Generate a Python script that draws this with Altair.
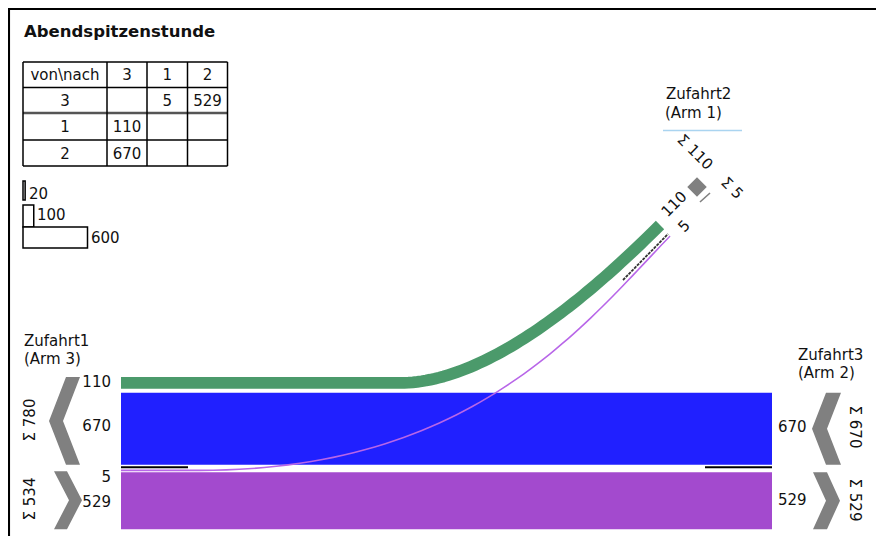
import altair as alt
import pandas as pd

# ---------------- data ----------------
title = "Abendspitzenstunde"
col_heads = ["von\\nach", "3", "1", "2"]
row_heads = ["3", "1", "2"]
matrix = [[None, 5, 529],
          [110, None, None],
          [670, None, None]]
legend_vals = [20, 100, 600]
arm_labels = {"Arm 3": ["Zufahrt1", "(Arm 3)"],
              "Arm 2": ["Zufahrt3", "(Arm 2)"],
              "Arm 1": ["Zufahrt2", "(Arm 1)"]}
flow_1_3 = 110   # Arm 1 -> Arm 3 (green)
flow_2_3 = 670   # Arm 2 -> Arm 3 (blue)
flow_3_1 = 5     # Arm 3 -> Arm 1 (thin purple)
flow_3_2 = 529   # Arm 3 -> Arm 2 (purple)

sum_arm3_out = flow_1_3 + flow_2_3
sum_arm3_in = flow_3_1 + flow_3_2
sum_arm2_in = flow_2_3
sum_arm2_out = flow_3_2
sum_arm1_in = flow_1_3
sum_arm1_out = flow_3_1

# ---------------- layout ----------------
K = 0.1075            # px per vehicle
FONT = "DejaVu Sans"
FS = 15
GREEN = "#4B9A6B"
BLUE = "#2020FF"
PURPLE = "#A34ACE"
THIN = "#B866E8"
GRAY = "#808080"

W, H = 868, 528
XL, XR = 121, 772
green_top = 377
g_h = flow_1_3 * K
g_c = green_top + g_h / 2
blue_top = green_top + g_h + 4
blue_bot = blue_top + flow_2_3 * K
sep_y = blue_bot + 2.5
thin_y = blue_bot + 5.5
purple_top = blue_bot + 7.5
purple_bot = purple_top + flow_3_2 * K

X = lambda f="x": alt.X(f + ":Q", scale=alt.Scale(domain=[8, 8 + W], nice=False, zero=False), axis=None, stack=None)
Y = lambda f="y": alt.Y(f + ":Q", scale=alt.Scale(domain=[8, 8 + H], nice=False, zero=False, reverse=True), axis=None, stack=None)


def bez(p0, p1, p2, p3, n=60):
    pts = []
    for j in range(n + 1):
        t = j / n
        a, b, c, d = (1 - t) ** 3, 3 * (1 - t) ** 2 * t, 3 * (1 - t) * t ** 2, t ** 3
        pts.append((a * p0[0] + b * p1[0] + c * p2[0] + d * p3[0],
                    a * p0[1] + b * p1[1] + c * p2[1] + d * p3[1]))
    return pts


def path_df(pts):
    return pd.DataFrame([{"x": p[0], "y": p[1], "i": k} for k, p in enumerate(pts)])


layers = []

# frame (top and left edges)
frame = pd.DataFrame([{"x": 8, "y": 8.8, "x2": 884, "y2": 8.8},
                      {"x": 8.8, "y": 8, "x2": 8.8, "y2": 544}])
layers.append(alt.Chart(frame).mark_rule(color="black", strokeWidth=2.5, strokeCap="butt").encode(
    x=X(), y=Y(), x2="x2:Q", y2="y2:Q"))

# bands
rects = pd.DataFrame([
    {"x": XL, "x2": XR, "y": blue_top, "y2": blue_bot, "c": BLUE},
    {"x": XL, "x2": XR, "y": purple_top, "y2": purple_bot, "c": PURPLE},
])
layers.append(alt.Chart(rects).mark_rect().encode(
    x=X(), x2="x2:Q", y=Y(), y2="y2:Q", color=alt.Color("c:N", scale=None)))

# green curved band
gpts = [(XL, g_c)] + bez((400, g_c), (485, g_c), (585, 300), (660, 225))
layers.append(alt.Chart(path_df(gpts)).mark_line(
    color=GREEN, strokeWidth=g_h, strokeCap="butt", strokeJoin="round").encode(
    x=X(), y=Y(), order="i:Q"))

# thin purple curve
ppts = [(XL, thin_y)] + bez((200, thin_y), (470, thin_y), (580, 330), (670, 236))
layers.append(alt.Chart(path_df(ppts)).mark_line(
    color=THIN, strokeWidth=max(flow_3_1 * K, 1.6), strokeCap="butt").encode(
    x=X(), y=Y(), order="i:Q"))

# separator lines
seps = pd.DataFrame([
    {"x": XL, "x2": 188, "y": sep_y, "y2": sep_y},
    {"x": 705, "x2": XR, "y": sep_y, "y2": sep_y},
])
layers.append(alt.Chart(seps).mark_rule(color="black", strokeWidth=2, strokeCap="butt").encode(
    x=X(), x2="x2:Q", y=Y(), y2="y2:Q"))
diag = pd.DataFrame([{"x": 623, "y": 280, "x2": 668, "y2": 234}])
layers.append(alt.Chart(diag).mark_rule(color="white", strokeWidth=4, strokeCap="butt").encode(
    x=X(), x2="x2:Q", y=Y(), y2="y2:Q"))
layers.append(alt.Chart(diag).mark_rule(color="#333333", strokeWidth=1.8, strokeCap="butt",
                                        strokeDash=[3, 1]).encode(
    x=X(), x2="x2:Q", y=Y(), y2="y2:Q"))

# chevrons (horizontal areas)
def chev(cid, y0, y1, xo, xi, tip_o, tip_i):
    ym = (y0 + y1) / 2
    return [{"id": cid, "y": y0, "xa": xo, "xb": xi},
            {"id": cid, "y": ym, "xa": tip_o, "xb": tip_i},
            {"id": cid, "y": y1, "xa": xo, "xb": xi}]

chev_rows = (chev("l_out", green_top, blue_bot, 66, 80, 49, 63)
             + chev("l_in", thin_y + 1, purple_bot, 54, 67, 69, 82)
             + chev("r_in", blue_top, blue_bot, 826, 841, 812, 827)
             + chev("r_out", purple_top, purple_bot, 813, 827, 826, 840))
layers.append(alt.Chart(pd.DataFrame(chev_rows)).mark_area(orient="horizontal", color=GRAY).encode(
    y=Y(), x=X("xa"), x2="xb:Q", detail="id:N"))

# arm 1 markers
layers.append(alt.Chart(pd.DataFrame([{"x": 697, "y": 187}])).mark_point(
    shape="square", filled=True, size=190, angle=45, color=GRAY, opacity=1).encode(x=X(), y=Y()))
tiny = pd.DataFrame([{"x": 700, "y": 202, "x2": 710, "y2": 193}])
layers.append(alt.Chart(tiny).mark_rule(color=GRAY, strokeWidth=1.6).encode(
    x=X(), x2="x2:Q", y=Y(), y2="y2:Q"))
blue_line = pd.DataFrame([{"x": 663, "x2": 742, "y": 130.5, "y2": 130.5}])
layers.append(alt.Chart(blue_line).mark_rule(color="#AAD4F0", strokeWidth=1.5).encode(
    x=X(), x2="x2:Q", y=Y(), y2="y2:Q"))

# table lines
col_edges = [23, 107, 147, 187.5, 227.5]
row_edges = [62, 87.5, 113, 140, 166]
tl = []
for k, ye in enumerate(row_edges):
    tl.append({"x": col_edges[0], "x2": col_edges[-1], "y": ye, "y2": ye, "w": 2.6 if k == 2 else 1.5,
               "c": "#555555" if k == 2 else "black"})
for xe in col_edges:
    tl.append({"x": xe, "x2": xe, "y": row_edges[0], "y2": row_edges[-1], "w": 1.5, "c": "black"})
layers.append(alt.Chart(pd.DataFrame(tl)).mark_rule().encode(
    x=X(), x2="x2:Q", y=Y(), y2="y2:Q",
    strokeWidth=alt.StrokeWidth("w:Q", scale=None), color=alt.Color("c:N", scale=None)))

# legend boxes
leg_tops = [181, 205, 227]
leg_bots = [200, 227, 248]
leg = pd.DataFrame([{"x": 23, "x2": 23 + v * K, "y": t, "y2": b}
                    for v, t, b in zip(legend_vals, leg_tops, leg_bots)])
layers.append(alt.Chart(leg).mark_rect(fill="white", stroke="black", strokeWidth=1.5).encode(
    x=X(), x2="x2:Q", y=Y(), y2="y2:Q"))

# ---------------- texts ----------------
center_txt = []
col_c = [(a + b) / 2 for a, b in zip(col_edges[:-1], col_edges[1:])]
row_c = [(a + b) / 2 + 0.5 for a, b in zip(row_edges[:-1], row_edges[1:])]
for j, h in enumerate(col_heads):
    center_txt.append({"x": col_c[j], "y": row_c[0], "t": h, "a": 0})
for i, r in enumerate(row_heads):
    center_txt.append({"x": col_c[0], "y": row_c[i + 1], "t": r, "a": 0})
    for j, v in enumerate(matrix[i]):
        if v is not None:
            center_txt.append({"x": col_c[j + 1], "y": row_c[i + 1], "t": str(v), "a": 0})
center_txt += [
    {"x": 30, "y": 420, "t": f"Σ {sum_arm3_out}", "a": 270},
    {"x": 30, "y": 499, "t": f"Σ {sum_arm3_in}", "a": 270},
    {"x": 855, "y": 427, "t": f"Σ {sum_arm2_in}", "a": 90},
    {"x": 855, "y": 500, "t": f"Σ {sum_arm2_out}", "a": 90},
    {"x": 695, "y": 152, "t": f"Σ {sum_arm1_in}", "a": 45},
    {"x": 732, "y": 188, "t": f"Σ {sum_arm1_out}", "a": 45},
    {"x": 674, "y": 204, "t": str(flow_1_3), "a": 315},
    {"x": 684, "y": 226, "t": str(flow_3_1), "a": 315},
]
layers.append(alt.Chart(pd.DataFrame(center_txt)).mark_text(
    font=FONT, fontSize=FS, align="center", baseline="middle", color="#111111").encode(
    x=X(), y=Y(), text="t:N", angle=alt.Angle("a:Q", scale=None)))

left_txt = [
    {"x": 24, "y": 340.5, "t": arm_labels["Arm 3"][0]},
    {"x": 24, "y": 358.5, "t": arm_labels["Arm 3"][1]},
    {"x": 798, "y": 354.5, "t": arm_labels["Arm 2"][0]},
    {"x": 798, "y": 373, "t": arm_labels["Arm 2"][1]},
    {"x": 666, "y": 93.5, "t": arm_labels["Arm 1"][0]},
    {"x": 665, "y": 112.5, "t": arm_labels["Arm 1"][1]},
    {"x": 778, "y": 427, "t": str(flow_2_3)},
    {"x": 778, "y": 500, "t": str(flow_3_2)},
    {"x": 29, "y": 193.5, "t": str(legend_vals[0])},
    {"x": 37, "y": 215, "t": str(legend_vals[1])},
    {"x": 91, "y": 237.5, "t": str(legend_vals[2])},
]
layers.append(alt.Chart(pd.DataFrame(left_txt)).mark_text(
    font=FONT, fontSize=FS, align="left", baseline="middle", color="#111111").encode(
    x=X(), y=Y(), text="t:N"))

right_txt = [
    {"x": 111, "y": 382, "t": str(flow_1_3)},
    {"x": 111, "y": 426, "t": str(flow_2_3)},
    {"x": 111, "y": 477, "t": str(flow_3_1)},
    {"x": 111, "y": 502, "t": str(flow_3_2)},
]
layers.append(alt.Chart(pd.DataFrame(right_txt)).mark_text(
    font=FONT, fontSize=FS, align="right", baseline="middle", color="#111111").encode(
    x=X(), y=Y(), text="t:N"))

layers.append(alt.Chart(pd.DataFrame([{"x": 24, "y": 37, "t": title}])).mark_text(
    font=FONT, fontSize=16.5, fontWeight="bold", align="left", baseline="alphabetic", color="#111111").encode(
    x=X(), y=Y(), text="t:N"))

chart = alt.layer(*layers).properties(
    width=W, height=H, padding=0,
    autosize=alt.AutoSizeParams(type="none"),
).configure_view(stroke="transparent", strokeOpacity=0)

chart.save("out.html", embed_options={"renderer": "svg", "actions": False})
